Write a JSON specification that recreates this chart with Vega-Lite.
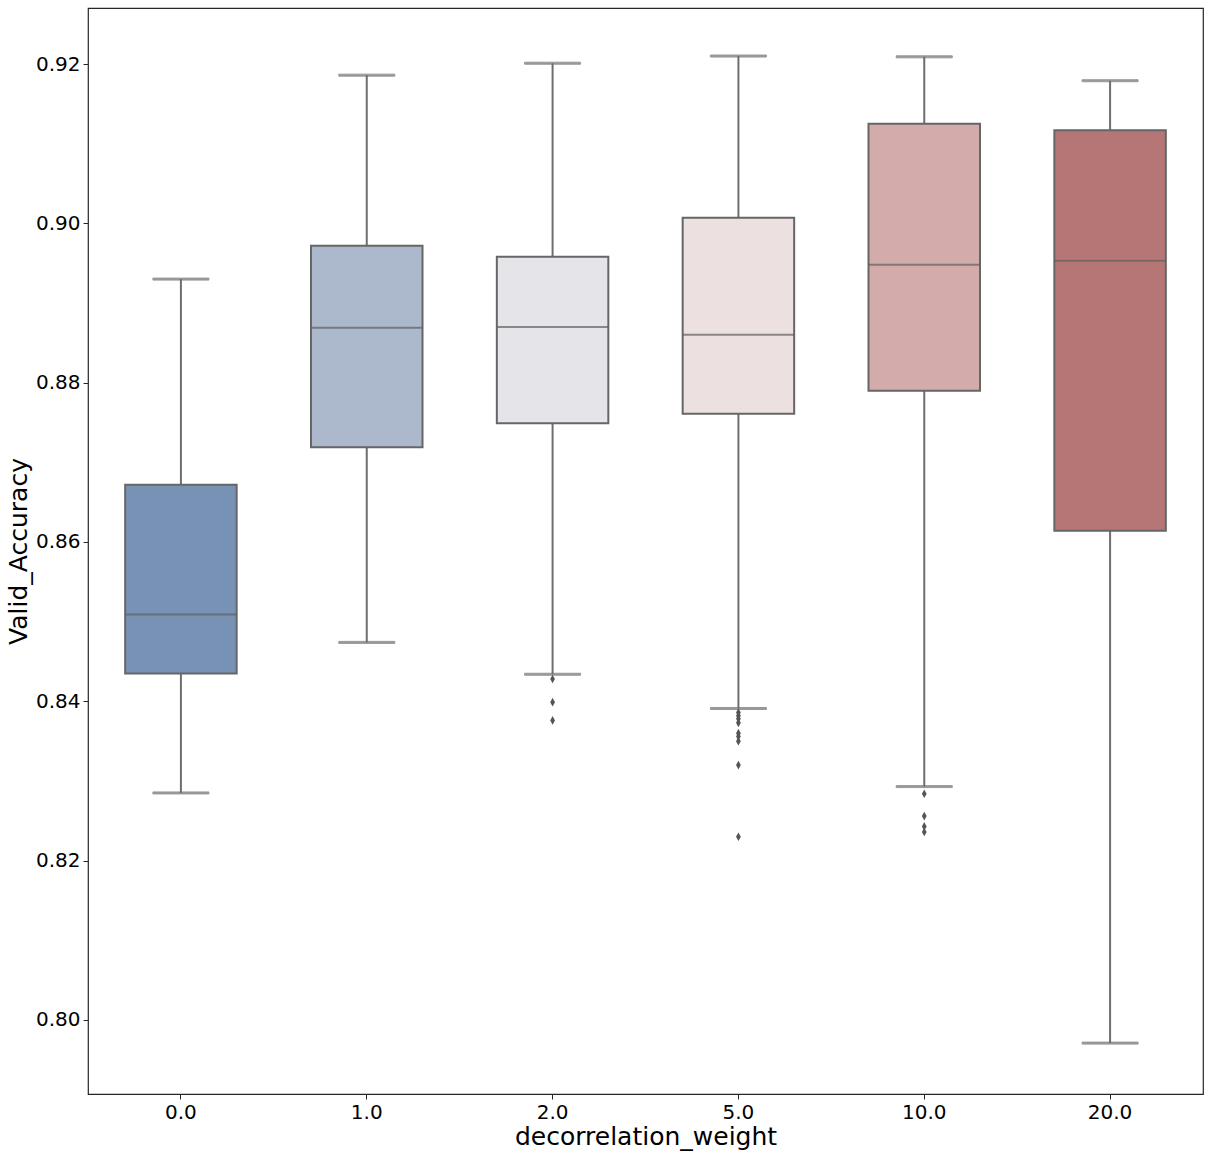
{
  "$schema": "https://vega.github.io/schema/vega-lite/v6.json",
  "autosize": {"type": "none"},
  "padding": {"left": 88, "top": 8, "right": 7, "bottom": 62},
  "width": 1115,
  "height": 1086,
  "background": "white",
  "config": {
    "font": "DejaVu Sans",
    "view": {"stroke": "#262626", "strokeWidth": 1.2},
    "axis": {
      "domain": false,
      "grid": false,
      "tickSize": 5,
      "tickColor": "#262626",
      "tickWidth": 1,
      "labelFont": "DejaVu Sans",
      "labelFontSize": 20,
      "labelColor": "#000000",
      "titleFont": "DejaVu Sans",
      "titleFontSize": 25,
      "titleFontWeight": "normal",
      "titleColor": "#000000"
    }
  },
  "datasets": {
    "boxes": [
      {"w": "0.0", "lower": 0.8285, "q1": 0.8435, "median": 0.8509, "q3": 0.8672, "upper": 0.8930},
      {"w": "1.0", "lower": 0.8474, "q1": 0.8719, "median": 0.8869, "q3": 0.8972, "upper": 0.9186},
      {"w": "2.0", "lower": 0.8434, "q1": 0.8749, "median": 0.8870, "q3": 0.8958, "upper": 0.9201},
      {"w": "5.0", "lower": 0.8391, "q1": 0.8761, "median": 0.8860, "q3": 0.9007, "upper": 0.9210},
      {"w": "10.0", "lower": 0.8293, "q1": 0.8790, "median": 0.8948, "q3": 0.9125, "upper": 0.9209},
      {"w": "20.0", "lower": 0.7971, "q1": 0.8614, "median": 0.8953, "q3": 0.9117, "upper": 0.9179}
    ],
    "outliers": [
      {"w": "2.0", "v": 0.8428},
      {"w": "2.0", "v": 0.8399},
      {"w": "2.0", "v": 0.8376},
      {"w": "5.0", "v": 0.8386},
      {"w": "5.0", "v": 0.8382},
      {"w": "5.0", "v": 0.8378},
      {"w": "5.0", "v": 0.8373},
      {"w": "5.0", "v": 0.8360},
      {"w": "5.0", "v": 0.8356},
      {"w": "5.0", "v": 0.8350},
      {"w": "5.0", "v": 0.8320},
      {"w": "5.0", "v": 0.8230},
      {"w": "10.0", "v": 0.8284},
      {"w": "10.0", "v": 0.8256},
      {"w": "10.0", "v": 0.8243},
      {"w": "10.0", "v": 0.8236}
    ]
  },
  "encoding": {
    "x": {
      "field": "w",
      "type": "nominal",
      "sort": ["0.0", "1.0", "2.0", "5.0", "10.0", "20.0"],
      "scale": {"paddingInner": 0, "paddingOuter": 0},
      "axis": {"title": "decorrelation_weight", "labelAngle": 0, "labelPadding": 3, "titlePadding": 2}
    }
  },
  "layer": [
    {
      "data": {"name": "boxes"},
      "mark": {"type": "rule", "stroke": "#6e6e6e", "strokeWidth": 2},
      "encoding": {
        "y": {
          "field": "lower",
          "type": "quantitative",
          "scale": {"domain": [0.79071, 0.92703], "nice": false, "zero": false},
          "axis": {
            "title": "Valid_Accuracy",
            "values": [0.80, 0.82, 0.84, 0.86, 0.88, 0.90, 0.92],
            "format": ".2f",
            "labelPadding": 3,
            "titlePadding": 4
          }
        },
        "y2": {"field": "upper"}
      }
    },
    {
      "data": {"name": "boxes"},
      "mark": {"type": "tick", "stroke": "#6e6e6e", "color": "#6e6e6e", "thickness": 2, "size": 56},
      "encoding": {"y": {"field": "lower", "type": "quantitative"}}
    },
    {
      "data": {"name": "boxes"},
      "mark": {"type": "tick", "stroke": "#6e6e6e", "color": "#6e6e6e", "thickness": 2, "size": 56},
      "encoding": {"y": {"field": "upper", "type": "quantitative"}}
    },
    {
      "data": {"name": "boxes"},
      "mark": {"type": "bar", "width": {"band": 0.6}, "stroke": "#666666", "strokeWidth": 2, "opacity": 1},
      "encoding": {
        "y": {"field": "q1", "type": "quantitative"},
        "y2": {"field": "q3"},
        "fill": {
          "field": "w",
          "type": "nominal",
          "scale": {
            "domain": ["0.0", "1.0", "2.0", "5.0", "10.0", "20.0"],
            "range": ["#7892b6", "#acb9cc", "#e5e4e9", "#ede0e0", "#d3abab", "#b67676"]
          },
          "legend": null
        }
      }
    },
    {
      "data": {"name": "boxes"},
      "mark": {"type": "tick", "color": "#606060", "thickness": 2, "size": 111},
      "encoding": {"y": {"field": "median", "type": "quantitative"}}
    },
    {
      "data": {"name": "outliers"},
      "mark": {"type": "point", "shape": "M0,-1L0.55,0L0,1L-0.55,0Z", "size": 75, "filled": true, "color": "#555555", "opacity": 1},
      "encoding": {"y": {"field": "v", "type": "quantitative"}}
    }
  ]
}
